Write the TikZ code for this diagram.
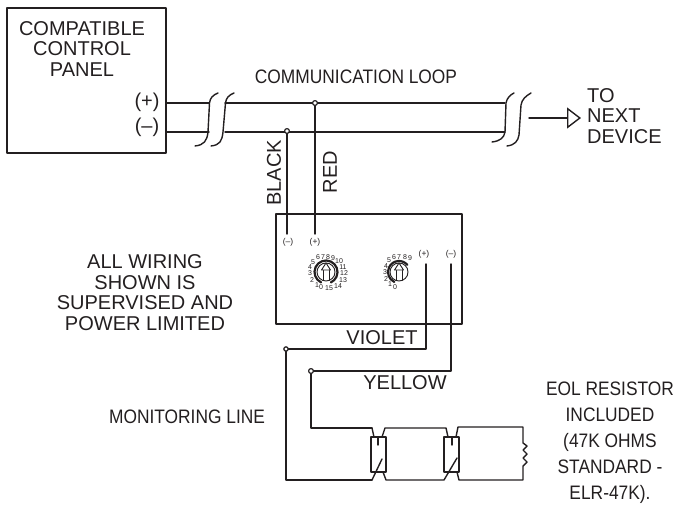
\documentclass[tikz,border=0pt]{standalone}
\usepackage{fontspec}
\setmainfont{Liberation Sans}
\newfontfamily\condfont[FakeStretch=0.89]{Liberation Sans}
\usetikzlibrary{arrows.meta}
\definecolor{ink}{HTML}{231F20}
\tikzset{
	wire/.style={draw=ink,line width=1.4pt},
	thinbox/.style={draw=ink,line width=1.3pt},
	lbl/.style={inner sep=0pt,text=ink,align=center,font=\fontsize{20}{20.6}\selectfont},
	midlbl/.style={inner sep=0pt,text=ink,align=center,font=\condfont\fontsize{19.5}{26}\selectfont},
	tinylbl/.style={inner sep=0pt,text=ink,font=\fontsize{8.5}{9}\selectfont},
	dialnum/.style={inner sep=0pt,text=ink,font=\fontsize{7}{8}\selectfont},
	joint/.style={draw=ink,line width=1.2pt,fill=white}
}
\begin{document}
\begin{tikzpicture}[x=1pt,y=-1pt,line join=round,line cap=round]
	\useasboundingbox (0,0) rectangle (677,505);
	\path
	(7,8) coordinate (P1)
	(166,153) coordinate (P2)
	(166,103) coordinate (Pplus)
	(166,132) coordinate (Pminus)
	(209,103) coordinate (A1)
	(209,132) coordinate (B1)
	(225,103) coordinate (A2)
	(225,132) coordinate (B2)
	(505,103) coordinate (A3)
	(505,132) coordinate (B3)
	(529,118) coordinate (T1)
	(581,118) coordinate (T2)
	(276,214) coordinate (M1)
	(462,324) coordinate (M2)
	(315,103) coordinate (R0)
	(315,234) coordinate (R1)
	(287,131) coordinate (K0)
	(287,234) coordinate (K1)
	(426,264) coordinate (V0)
	(426,349) coordinate (V1)
	(286,349) coordinate (V2)
	(286,480) coordinate (V3)
	(451,264) coordinate (Y0)
	(451,371) coordinate (Y1)
	(311,371) coordinate (Y2)
	(311,428) coordinate (Y3)
	(326,272) coordinate (D1)
	(399,272) coordinate (D2)
	;
	\draw[thinbox] (P1) rectangle (P2);
	\draw[thinbox] (M1) rectangle (M2);
	\draw[wire] (Pplus)--(A1) (A2)--(A3);
	\draw[wire] (Pminus)--(B1) (B2)--(B3);
	\draw[wire,-{Triangle[open,length=14pt,width=21pt,line width=1.4pt]}] (T1)--(T2);
	\draw[wire] (195,146) .. controls (204,145) and (207,141) .. (208,132) -- (209.5,103) .. controls (210,98) and (213,95) .. (218,93);
	\draw[wire] (211,146) .. controls (220,145) and (222,141) .. (223,132) -- (225.5,103) .. controls (226,98) and (229,95) .. (234,93);
	\draw[wire] (492,142) .. controls (500,141) and (504,138) .. (505,132) -- (506,103) .. controls (507,98) and (510,95) .. (514,93);
	\draw[wire] (507,146) .. controls (515,145) and (518,141) .. (519,135) -- (521,105) .. controls (522,99) and (526,96) .. (531,93);
	\draw[wire] (R0)--(R1);
	\draw[wire] (K0)--(K1);
	\draw[wire] (V0)--(V1)--(V2)--(V3)--(372,480);
	\draw[wire] (Y0)--(Y1)--(Y2)--(Y3)--(372,428);
	\draw[joint] (R0) circle[radius=2.4pt];
	\draw[joint] (K0) circle[radius=2.4pt];
	\draw[joint] (V2) circle[radius=2.2pt];
	\draw[joint] (Y2) circle[radius=2.4pt];
	\draw[thinbox] (371,437) rectangle (386,472);
	\draw[thinbox] (444,437) rectangle (459,472);
	\draw[wire] (378,437)--(378,445) (452,437)--(452,445);
	\draw[wire] (372,428)--(374,437) (382,437)--(385,428)--(446,428)--(448,437);
	\draw[wire] (456,437)--(458,427)--(523,427)--(523,443)--(527,446)--(523,450)--(527,454)--(523,458)--(527,462)--(523,466)--(523,480)--(459,480)--(457,472);
	\draw[wire] (372,480)--(382,459);
	\draw[wire] (383,472)--(386,480)--(444,480)--(457,458);
	\draw[line width=2.2pt,draw=ink] (D1)+(-115:11.5pt) arc[start angle=-115,end angle=-425,radius=11.5pt];
	\draw[line width=2.2pt,draw=ink] (D2)+(-115:11pt) arc[start angle=-115,end angle=-320,radius=11pt];
	\foreach \c in {D1,D2}{
		\draw[thinbox,line width=0.9pt] (\c) circle[radius=9pt];
		\draw[thinbox,line width=0.9pt] ([shift={(-3,-2)}]\c)--([shift={(-3,8)}]\c) ([shift={(3,-2)}]\c)--([shift={(3,8)}]\c);
		\draw[thinbox,line width=0.9pt,fill=white] ([shift={(0,-9)}]\c)--([shift={(-4.5,-2)}]\c)--([shift={(4.5,-2)}]\c)--cycle;
	}
	\foreach \n/\x/\y in {0/321/287,1/317/285,2/312/280,3/310/273,4/310/267,5/313/262,6/318/257,7/323/257,8/328/257,9/333/258,10/339/261,11/343/267,12/344/273,13/343/280,14/338/286,15/329/288}
		\node[dialnum] (dl\n) at (\x,\y) {\n};
	\foreach \n/\x/\y in {0/395/287,1/390/284,2/386/279,3/385/272,4/386/266,5/389/260,6/394/257,7/399/257,8/405/257,9/410/258}
		\node[dialnum] (dr\n) at (\x,\y) {\n};
	\node[lbl] (panel) at (82,49) {COMPATIBLE\\CONTROL\\PANEL};
	\node[lbl] (pplus) at (147,102) {(+)};
	\node[lbl] (pminus) at (147,127) {(--)};
	\node[midlbl] (loop) at (356,77) {COMMUNICATION LOOP};
	\node[lbl,anchor=west,align=left] (next) at (587,116) {TO\\NEXT\\DEVICE};
	\node[lbl,rotate=90] (black) at (274,173) {BLACK};
	\node[lbl,rotate=90] (red) at (330,172) {RED};
	\node[tinylbl] (mk) at (288,242) {(--)};
	\node[tinylbl] (mr) at (315,242) {(+)};
	\node[tinylbl] (mv) at (424,254) {(+)};
	\node[tinylbl] (my) at (451,254) {(--)};
	\node[lbl] (note) at (145,292.5) {ALL WIRING\\SHOWN IS\\SUPERVISED AND\\POWER LIMITED};
	\node[lbl] (violet) at (382,338) {VIOLET};
	\node[lbl] (yellow) at (405,383) {YELLOW};
	\node[midlbl] (mon) at (187,417) {MONITORING LINE};
	\node[midlbl] (eol) at (610,443) {EOL RESISTOR\\INCLUDED\\(47K OHMS\\STANDARD -\\ELR-47K).};
\end{tikzpicture}
\end{document}
